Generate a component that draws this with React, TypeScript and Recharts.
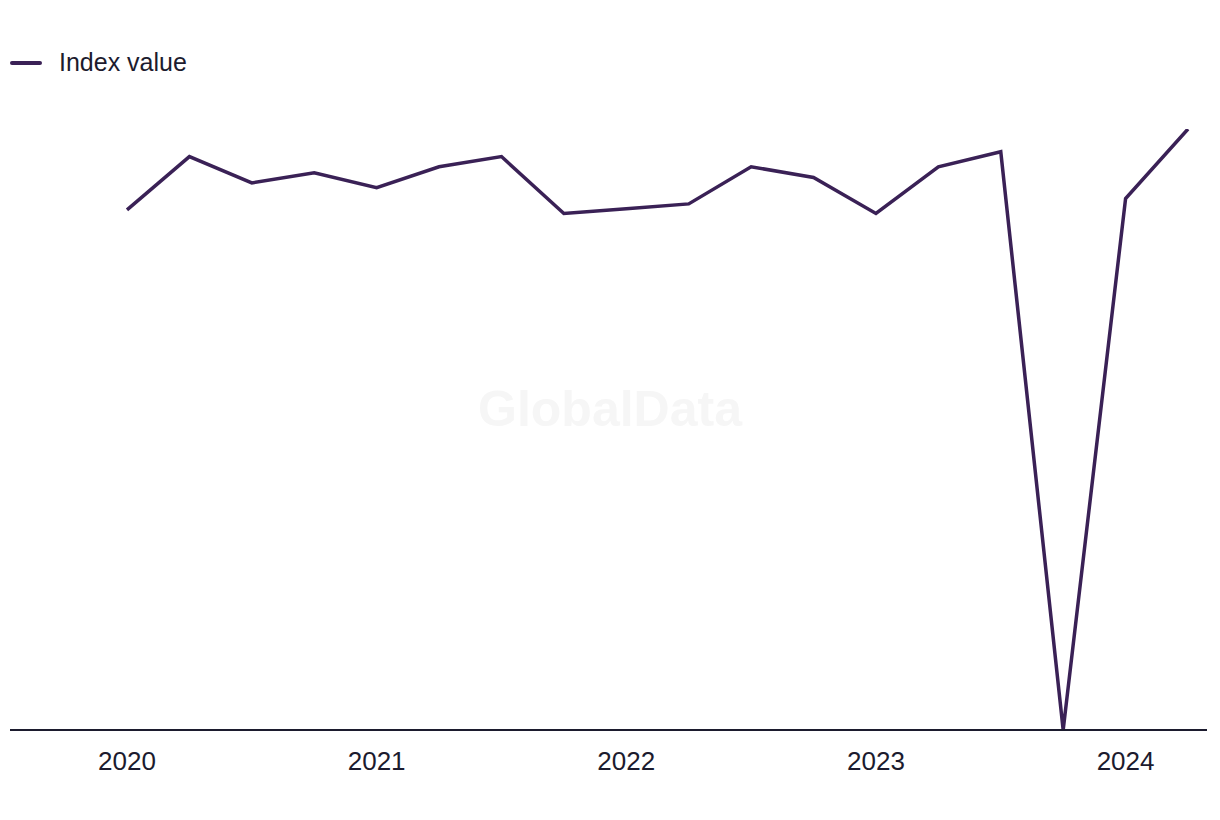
import { LineChart, Line, XAxis, YAxis, Legend } from "recharts";

const quarters = [
  "2020 Q1", "2020 Q2", "2020 Q3", "2020 Q4",
  "2021 Q1", "2021 Q2", "2021 Q3", "2021 Q4",
  "2022 Q1", "2022 Q2", "2022 Q3", "2022 Q4",
  "2023 Q1", "2023 Q2", "2023 Q3", "2023 Q4",
  "2024 Q1", "2024 Q2",
];

const indexValue = [
  86.8, 95.7, 91.3, 93.0, 90.5, 94.0, 95.7, 86.2, 87.0,
  87.8, 94.0, 92.2, 86.2, 94.0, 96.5, 0, 88.7, 100.3,
];

const yearTicks = ["2020 Q1", "2021 Q1", "2022 Q1", "2023 Q1", "2024 Q1"];

const data = quarters.map((q, i) => ({ name: q, value: indexValue[i] }));

const LINE = "#3a2156";
const INK = "#1c1b2e";
const FONT = "'Liberation Sans', Arial, sans-serif";

const LegendContent = () => (
  <div style={{ display: "flex", alignItems: "center", fontFamily: FONT }}>
    <span
      style={{
        width: 32,
        height: 4,
        borderRadius: 2,
        background: LINE,
        display: "inline-block",
      }}
    />
    <span style={{ marginLeft: 17, fontSize: 25, color: INK }}>Index value</span>
  </div>
);

export default function App() {
  return (
    <div style={{ position: "relative", width: 1204, height: 800 }}>
      <div
        style={{
          position: "absolute",
          left: 0,
          width: 1204,
          top: 372,
          textAlign: "center",
          fontFamily: FONT,
          fontWeight: 700,
          fontSize: 50,
          color: "#f6f6f6",
        }}
      >
        GlobalData
      </div>
      <LineChart
        width={1204}
        height={800}
        data={data}
        margin={{ top: 92, right: 5, bottom: 0, left: 2 }}
      >
        <XAxis
          dataKey="name"
          ticks={yearTicks}
          tickFormatter={(v: string) => v.slice(0, 4)}
          padding={{ left: 117, right: 19 }}
          height={78}
          tickLine={false}
          tickSize={0}
          tickMargin={22}
          axisLine={{ stroke: INK, strokeWidth: 2 }}
          tick={{ fill: INK, fontSize: 26, fontFamily: FONT }}
        />
        <YAxis hide domain={["dataMin", "dataMax"]} allowDataOverflow />
        <Legend
          verticalAlign="top"
          align="left"
          content={<LegendContent />}
          wrapperStyle={{ top: 40, left: 2 }}
        />
        <Line
          type="linear"
          dataKey="value"
          stroke={LINE}
          strokeWidth={3.5}
          dot={false}
          activeDot={false}
          isAnimationActive={false}
        />
      </LineChart>
    </div>
  );
}
